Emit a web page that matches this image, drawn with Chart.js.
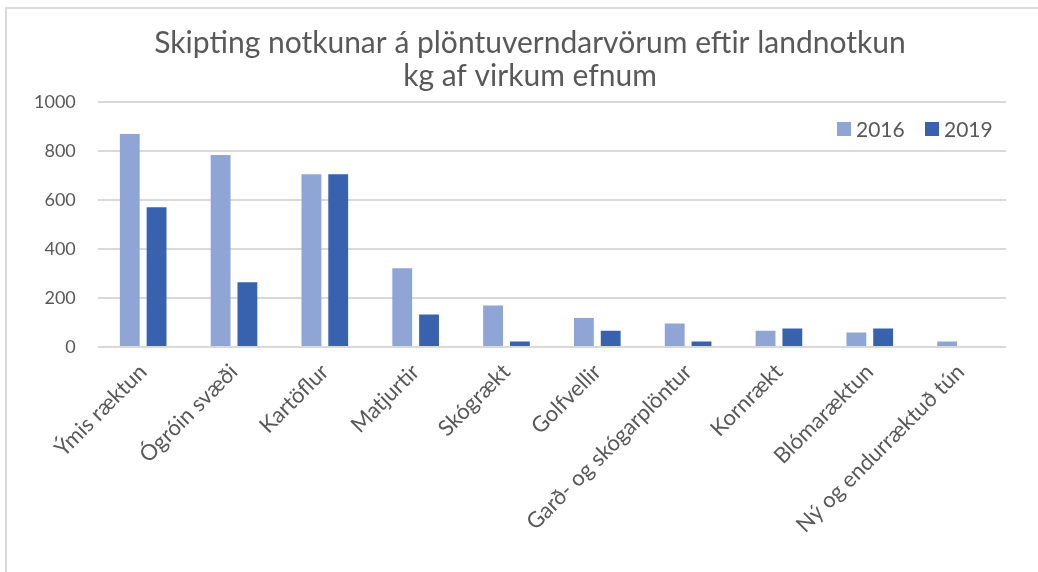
<!DOCTYPE html>
<html>
<head>
<meta charset="utf-8">
<script src="https://cdn.jsdelivr.net/npm/chart.js@4"></script>
<style>
  html, body { margin: 0; padding: 0; background: #fff; }
  #wrap { position: relative; width: 1038px; height: 572px; }
  #frame { position: absolute; left: 5px; top: 7px; right: 0; bottom: 0;
           border-left: 2px solid #d9d9d9; border-top: 2px solid #d9d9d9; }
  canvas { position: absolute; left: 0; top: 0; }
</style>
</head>
<body>
<div id="wrap">
  <div id="frame"></div>
  <canvas id="chart" width="1038" height="572"></canvas>
</div>
<script>
  const categories = ['Ýmis ræktun', 'Ógróin svæði', 'Kartöflur', 'Matjurtir', 'Skógrækt',
    'Golfvellir', 'Garð- og skógarplöntur', 'Kornrækt', 'Blómaræktun', 'Ný og endurræktuð tún'];
  const values2016 = [869, 784, 705, 321, 169, 118, 96, 66, 59, 22];
  const values2019 = [570, 264, 705, 132, 22, 66, 22, 75, 75, 0];
  const yTicks = [0, 200, 400, 600, 800, 1000];

  const textColor = '#595959';
  const fontFamily = 'Lato, "Open Sans", sans-serif';

  // legend drawn inside the plot, top right, like the original
  const insideLegend = {
    id: 'insideLegend',
    afterLayout(chart) {
      // the original title sits a little right of the plot centre
      chart.titleBlock.left += 21;
      chart.titleBlock.right += 21;
    },
    afterDraw(chart) {
      const ctx = chart.ctx;
      const area = chart.chartArea;
      ctx.save();
      ctx.font = '21px ' + fontFamily;
      ctx.textBaseline = 'middle';
      let x = area.right - 169;
      const y = area.top + 27;
      chart.data.datasets.forEach(ds => {
        ctx.fillStyle = ds.backgroundColor;
        ctx.fillRect(x, y - 7, 14, 14);
        ctx.fillStyle = textColor;
        ctx.fillText(ds.label, x + 19, y + 1);
        x += 88;
      });
      ctx.restore();
    }
  };

  const ctx = document.getElementById('chart').getContext('2d');
  new Chart(ctx, {
    type: 'bar',
    data: {
      labels: categories,
      datasets: [
        { label: '2016', data: values2016, backgroundColor: '#8ea5d5' },
        { label: '2019', data: values2019, backgroundColor: '#3862ae' },
      ],
    },
    options: {
      responsive: false,
      animation: false,
      layout: { padding: { left: 12, right: 32, top: 0, bottom: 30 } },
      datasets: {
        bar: { categoryPercentage: 0.59, barPercentage: 0.74 },
      },
      plugins: {
        legend: { display: false },
        tooltip: { enabled: false },
        title: {
          display: true,
          text: ['Skipting notkunar á plöntuverndarvörum eftir landnotkun', 'kg af virkum efnum'],
          color: textColor,
          font: { family: fontFamily, size: 30, weight: 'normal', lineHeight: 1.1 },
          padding: { top: 27, bottom: 9 },
        },
      },
      scales: {
        x: {
          grid: { display: false },
          border: { display: false },
          ticks: {
            color: textColor,
            font: { family: fontFamily, size: 22 },
            minRotation: 45,
            maxRotation: 45,
            autoSkip: false,
            padding: 4,
          },
        },
        y: {
          min: 0,
          max: 1000,
          afterBuildTicks(axis) { axis.ticks = yTicks.map(v => ({ value: v })); },
          grid: { color: '#d9d9d9', lineWidth: 2, drawTicks: false },
          border: { display: false },
          ticks: {
            color: textColor,
            font: { family: fontFamily, size: 18 },
            padding: 22,
            callback: v => String(v),
          },
        },
      },
    },
    plugins: [insideLegend],
  });
</script>
</body>
</html>
